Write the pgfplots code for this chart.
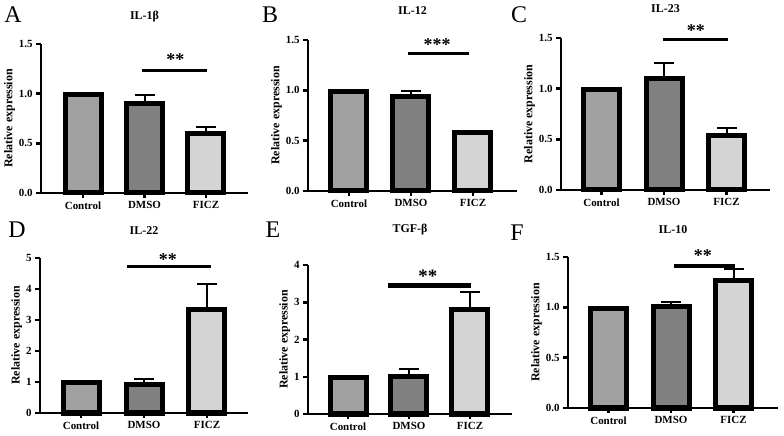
\documentclass[border=0pt]{standalone}
\usepackage{pgfplots}
\pgfplotsset{compat=1.18}
\usepackage{fontspec}
\setmainfont{Liberation Serif}
\definecolor{cctrl}{gray}{0.63}
\definecolor{cdmso}{gray}{0.5}
\definecolor{cficz}{gray}{0.83}
\tikzset{stars/.style={font=\bfseries\fontsize{18}{18}\selectfont, anchor=base, inner sep=0pt}}
\begin{document}
\begin{tikzpicture}
\path[use as bounding box] (0,0) rectangle (784bp,436bp);
\pgfplotsset{
 panel/.style={scale only axis, anchor=south west, ymin=0, clip=false, enlargelimits=false,
  axis x line*=bottom, axis y line*=left, axis line style={-, line width=2.7bp, black},
  xtick={0,1,2}, xticklabels={Control,DMSO,FICZ},
  tick align=outside, major tick length=5bp, tick style={line width=2.5bp, black},
  minor tick num=0,
  /pgf/number format/assume math mode=true,
  tick label style={font=\bfseries\fontsize{11}{13}\selectfont},
  yticklabel style={/pgf/number format/.cd, fixed, fixed zerofill, precision=1},
  ylabel={Relative expression}, ylabel style={font=\bfseries\fontsize{12}{14}\selectfont},
  ylabel shift=-3bp,
  title style={font=\bfseries\fontsize{12}{14}\selectfont, anchor=center, at={(0.5,1)}, yshift=21bp},
 },
 gbar/.style={ybar, bar shift=0pt, bar width=36bp, draw=black, line width=5bp, fill=#1,
   error bars/.cd, y dir=plus, y explicit, error bar style={line width=2bp, black},
   error mark options={rotate=90, mark size=10bp, line width=2bp, black}},
}
% A
\begin{axis}[panel, at={(41bp,243bp)}, width=207bp, height=149bp, xmin=-0.683, xmax=2.683,
  ymax=1.5, ytick={0,0.5,1,1.5}, title={IL-1β}]
\addplot[gbar=cctrl] coordinates {(0,0.99) +- (0,0)};
\addplot[gbar=cdmso] coordinates {(1,0.90) +- (0,0.09)};
\addplot[gbar=cficz] coordinates {(2,0.60) +- (0,0.06)};
\draw[line width=3bp] (axis cs:0.96,1.238) -- (axis cs:2.016,1.238);
\node[stars] at (axis cs:1.5,1.279) {**};
\end{axis}
% B
\begin{axis}[panel, at={(308bp,245bp)}, width=209bp, height=151bp, xmin=-0.661, xmax=2.71,
  ymax=1.5, ytick={0,0.5,1,1.5}, title={IL-12}, title style={yshift=2bp}]
\addplot[gbar=cctrl] coordinates {(0,0.99) +- (0,0)};
\addplot[gbar=cdmso] coordinates {(1,0.94) +- (0,0.05)};
\addplot[gbar=cficz] coordinates {(2,0.58) +- (0,0.01)};
\draw[line width=3bp] (axis cs:0.95,1.361) -- (axis cs:1.935,1.361);
\node[stars] at (axis cs:1.42,1.391) {***};
\end{axis}
% C
\begin{axis}[panel, at={(561bp,246bp)}, width=209bp, height=152bp, xmin=-0.648, xmax=2.696,
  ymax=1.5, ytick={0,0.5,1,1.5}, title={IL-23}, title style={yshift=2bp}]
\addplot[gbar=cctrl] coordinates {(0,0.99) +- (0,0)};
\addplot[gbar=cdmso] coordinates {(1,1.10) +- (0,0.15)};
\addplot[gbar=cficz] coordinates {(2,0.54) +- (0,0.07)};
\draw[line width=3bp] (axis cs:0.98,1.49) -- (axis cs:2.02,1.49);
\node[stars] at (axis cs:1.51,1.51) {**};
\end{axis}
% D
\begin{axis}[panel, at={(40bp,23bp)}, width=208bp, height=155bp, xmin=-0.651, xmax=2.651,
  ymax=5, ytick={0,1,2,3,4,5}, yticklabel style={/pgf/number format/.cd, fixed, precision=0},
  title={IL-22}]
\addplot[gbar=cctrl] coordinates {(0,0.98) +- (0,0)};
\addplot[gbar=cdmso] coordinates {(1,0.91) +- (0,0.20)};
\addplot[gbar=cficz] coordinates {(2,3.33) +- (0,0.83)};
\draw[line width=3bp] (axis cs:0.73,4.71) -- (axis cs:2.06,4.71);
\node[stars] at (axis cs:1.38,4.77) {**};
\end{axis}
% E
\begin{axis}[panel, at={(308bp,22bp)}, width=204bp, height=149bp, xmin=-0.656, xmax=2.689,
  ymax=4, ytick={0,1,2,3,4}, yticklabel style={/pgf/number format/.cd, fixed, precision=0},
  title={TGF-β}, title style={yshift=8bp}]
\addplot[gbar=cctrl] coordinates {(0,0.98) +- (0,0)};
\addplot[gbar=cdmso] coordinates {(1,1.02) +- (0,0.20)};
\addplot[gbar=cficz] coordinates {(2,2.80) +- (0,0.48)};
\draw[line width=5bp] (axis cs:0.656,3.44) -- (axis cs:2.016,3.44);
\node[stars, font=\bfseries\fontsize{19}{19}\selectfont] at (axis cs:1.31,3.52) {**};
\end{axis}
% F
\begin{axis}[panel, at={(568bp,28bp)}, width=210bp, height=151bp, xmin=-0.648, xmax=2.712,
  ymax=1.5, ytick={0,0.5,1,1.5}, title={IL-10}]
\addplot[gbar=cctrl] coordinates {(0,0.99) +- (0,0)};
\addplot[gbar=cdmso] coordinates {(1,1.01) +- (0,0.04)};
\addplot[gbar=cficz] coordinates {(2,1.27) +- (0,0.11)};
\draw[line width=4bp] (axis cs:1.05,1.41) -- (axis cs:2.02,1.41);
\node[stars] at (axis cs:1.51,1.46) {**};
\end{axis}
% panel letters
\begin{scope}[every node/.style={font=\fontsize{24}{24}\selectfont, inner sep=0pt}]
\node at (13bp,421bp) {A};
\node at (270bp,421bp) {B};
\node at (519bp,421bp) {C};
\node at (17bp,206bp) {D};
\node at (273bp,206bp) {E};
\node at (517bp,203bp) {F};
\end{scope}
\end{tikzpicture}
\end{document}
